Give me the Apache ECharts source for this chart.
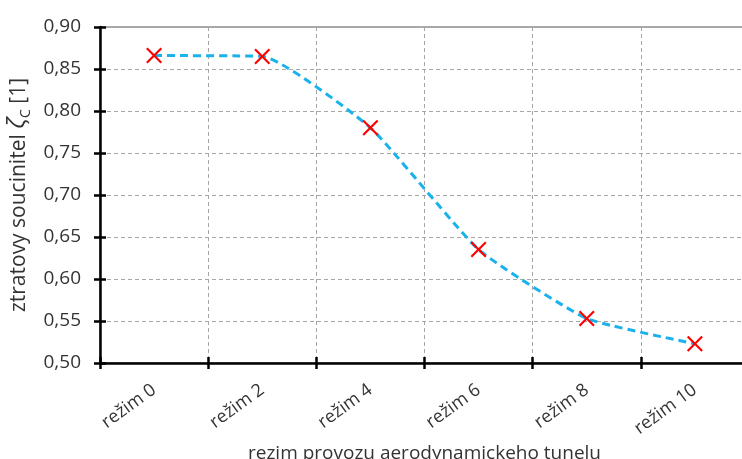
<!DOCTYPE html>
<html>
<head>
<meta charset="utf-8">
<script src="https://cdn.jsdelivr.net/npm/echarts@6/dist/echarts.min.js"></script>
<style>
html,body{margin:0;padding:0;background:#fff;}
#chart{width:742px;height:459px;}
</style>
</head>
<body>
<div id="chart"></div>
<script>
var categories = ['režim 0', 'režim 2', 'režim 4', 'režim 6', 'režim 8', 'režim 10'];
var values = [0.866, 0.865, 0.780, 0.635, 0.553, 0.523];
var yMin = 0.5, yMax = 0.9, yStep = 0.05;

var FONT = '"Open Sans", "Noto Sans", sans-serif';
var chart = echarts.init(document.getElementById('chart'), null, {renderer: 'canvas'});
var xCross = 'path://M1.9,0 L10,8.1 L18.1,0 L20,1.9 L11.9,10 L20,18.1 L18.1,20 L10,11.9 L1.9,20 L0,18.1 L8.1,10 L0,1.9 Z';

chart.setOption({
  animation: false,
  backgroundColor: '#fff',
  grid: {left: 100, top: 27, width: 649, height: 336, containLabel: false, outerBoundsMode: 'none',
    show: true, borderColor: '#555', borderWidth: 1, backgroundColor: 'transparent'},
  xAxis: [{
    type: 'category', data: categories, boundaryGap: true, position: 'bottom',
    name: 'rezim provozu aerodynamickeho tunelu', nameLocation: 'middle', nameGap: 78,
    nameTextStyle: {fontFamily: FONT, fontSize: 19, color: '#333'},
    axisLine: {show: true, lineStyle: {color: '#000', width: 2.5}},
    axisTick: {show: true, length: 6, lineStyle: {color: '#000', width: 2.5}},
    axisLabel: {rotate: 36, margin: 25, fontFamily: FONT, fontSize: 18, color: '#333'},
    splitLine: {show: true, lineStyle: {color: '#a6a6a6', type: [4, 3], width: 1}}
  }, {
    type: 'category', data: categories, boundaryGap: true, position: 'bottom', offset: 0,
    axisLine: {show: false},
    axisTick: {show: true, inside: true, length: 6, lineStyle: {color: '#000', width: 2.5}},
    axisLabel: {show: false}, splitLine: {show: false}
  }],
  yAxis: [{
    type: 'value', min: yMin, max: yMax, interval: yStep, position: 'left',
    name: '{a|ztratovy soucinitel }{z|ζ}{s|C}{a| [1]}', nameLocation: 'middle', nameGap: 62, nameRotate: 90,
    nameTextStyle: {fontFamily: FONT, fontSize: 21, color: '#333',
      rich: {
        a: {fontFamily: FONT, fontSize: 21, color: '#333', lineHeight: 26, verticalAlign: 'bottom'},
        z: {fontFamily: FONT, fontSize: 24, fontStyle: 'italic', color: '#333', lineHeight: 26, verticalAlign: 'bottom'},
        s: {fontFamily: FONT, fontSize: 14, color: '#333', lineHeight: 26, verticalAlign: 'bottom', padding: [0, 0, -3, 0]}
      }},
    axisLine: {show: true, lineStyle: {color: '#000', width: 2.5}},
    axisTick: {show: true, length: 6, lineStyle: {color: '#000', width: 2.5}},
    axisLabel: {margin: 19, fontFamily: FONT, fontSize: 19, color: '#333',
      formatter: function (v) { return v.toFixed(2).replace('.', ','); }},
    splitLine: {show: true, lineStyle: {color: '#a6a6a6', type: [4, 3], width: 1}}
  }, {
    type: 'value', min: yMin, max: yMax, interval: yStep, position: 'left', offset: 0,
    axisLine: {show: false},
    axisTick: {show: true, inside: true, length: 6, lineStyle: {color: '#000', width: 2.5}},
    axisLabel: {show: false}, splitLine: {show: false}
  }],
  series: [{
    type: 'line', data: values, xAxisIndex: 0, yAxisIndex: 0,
    smooth: 0.15,
    lineStyle: {color: '#1ab2ea', width: 3, type: [8, 5]},
    symbol: xCross, symbolSize: 16,
    itemStyle: {color: '#ff0000'},
    z: 5
  }]
});
</script>
</body>
</html>
